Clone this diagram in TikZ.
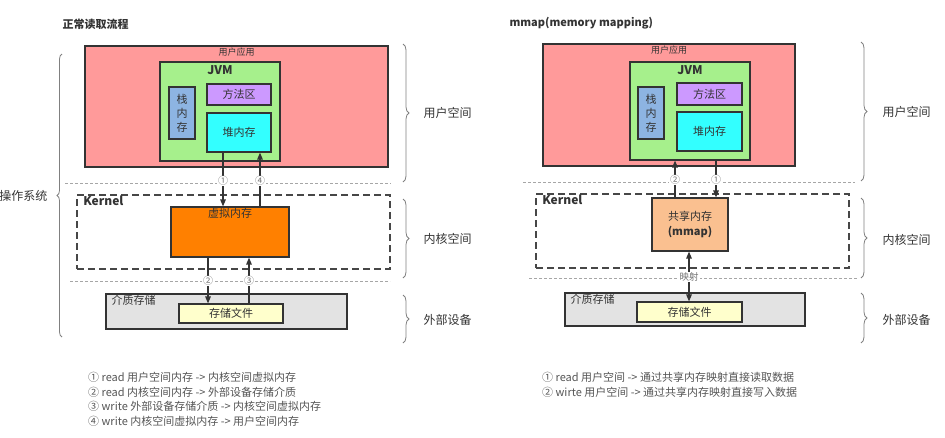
\documentclass[tikz,border=0pt]{standalone}
\usepackage{fontspec}
\setmainfont{Noto Sans CJK SC}
\usetikzlibrary{arrows.meta,decorations.pathreplacing,calc}
\definecolor{pinkfill}{HTML}{FF9A9A}
\definecolor{greenfill}{HTML}{A6F08C}
\definecolor{bluefill}{HTML}{8DB4E2}
\definecolor{purplefill}{HTML}{CC99FF}
\definecolor{cyanfill}{HTML}{33FFFF}
\definecolor{orangefill}{HTML}{FF8000}
\definecolor{lightorange}{HTML}{FAC090}
\definecolor{grayfill}{HTML}{E3E3E3}
\definecolor{yellowfill}{HTML}{FFFFCC}
\definecolor{linecol}{HTML}{333333}
\definecolor{textcol}{HTML}{333333}
\definecolor{legendcol}{HTML}{555555}
\tikzset{
  box/.style={draw=linecol, line width=1.1pt, inner sep=0pt, text=textcol},
  kbox/.style={draw=linecol!90, line width=1.6pt, dash pattern=on 7pt off 4pt, inner sep=0pt},
  sepline/.style={draw=gray!70, line width=0.8pt, dash pattern=on 3pt off 2pt},
  arr/.style={draw=linecol, line width=1.3pt, -{Triangle[length=7pt,width=5.5pt]}},
  darr/.style={draw=linecol, line width=1.3pt, {Triangle[length=7pt,width=5.5pt]}-{Triangle[length=7pt,width=5.5pt]}},
  num/.style={fill=white, inner sep=0.6pt, text=gray!90!black, font=\fontsize{10}{10}\selectfont},
  bracestyle/.style={draw=gray, line width=0.8pt, decorate},
  side/.style={anchor=west, text=textcol, font=\fontsize{12}{12}\selectfont},
  lbl/.style={text=textcol, font=\fontsize{11}{13}\selectfont, inner sep=1pt},
  legend/.style={anchor=west, text=legendcol, font=\fontsize{11}{12}\selectfont, inner sep=0pt},
  title/.style={anchor=west, text=textcol, font=\bfseries\fontsize{11}{12}\selectfont},
  kernlbl/.style={anchor=north west, text=textcol, font=\bfseries\fontsize{12}{12}\selectfont, inner sep=1pt},
}
\begin{document}
\begin{tikzpicture}[x=1pt,y=-1pt]
\useasboundingbox (0,0) rectangle (945,437);

% ---------------- Left diagram ----------------
\node[title] (titleL) at (59,24) {正常读取流程};

\node[box, fill=pinkfill, minimum width=303pt, minimum height=121pt] (pinkL) at (236.5,106.5) {};
\node[lbl, font=\fontsize{9}{10}\selectfont, anchor=north] (uappL) at ([yshift=-1pt]pinkL.north) {用户应用};
\node[box, fill=greenfill, minimum width=120pt, minimum height=99pt] (jvmL) at (220,111.5) {};
\node[lbl, font=\bfseries\fontsize{12}{12}\selectfont] (jvmtL) at (220,70) {JVM};
\node[box, fill=bluefill, minimum width=26pt, minimum height=52pt, align=center, font=\fontsize{11}{14}\selectfont] (stackL) at (182,113) {栈\\内\\存};
\node[box, fill=purplefill, minimum width=64pt, minimum height=21pt, font=\fontsize{11}{12}\selectfont] (methodL) at (239,94.5) {方法区};
\node[box, fill=cyanfill, minimum width=64pt, minimum height=39pt, font=\fontsize{11}{12}\selectfont] (heapL) at (239,132.5) {堆内存};

\draw[sepline] (65,183) -- (391,183);

\node[kbox, minimum width=313pt, minimum height=74pt] (kernelL) at (233.5,232) {};
\node[kernlbl] (kernelTL) at ([xshift=6pt,yshift=-1pt]kernelL.north west) {Kernel};
\node[box, fill=orangefill, minimum width=118pt, minimum height=50pt] (vmemL) at (230,232) {};
\node[lbl, anchor=north] (vmemtL) at ([yshift=-1pt]vmemL.north) {虚拟内存};

\draw[sepline] (70,281) -- (390,281);

\node[box, fill=grayfill, minimum width=241pt, minimum height=35pt] (storL) at (226.5,311.5) {};
\node[lbl, anchor=north west] (stortL) at ([xshift=5pt,yshift=-1pt]storL.north west) {介质存储};
\node[box, fill=yellowfill, minimum width=104pt, minimum height=19pt, font=\fontsize{11}{12}\selectfont] (fileL) at (231,313.5) {存储文件};

\coordinate (xa1) at (223,0);
\coordinate (xa4) at (260,0);
\coordinate (xa2) at (208,0);
\coordinate (xa3) at (249,0);
\draw[arr] (xa1 |- heapL.south) -- (xa1 |- vmemL.north);
\draw[arr] (xa4 |- vmemL.north) -- (xa4 |- heapL.south);
\draw[arr] (xa2 |- vmemL.south) -- (xa2 |- fileL.north);
\draw[arr] (xa3 |- fileL.north) -- (xa3 |- vmemL.south);
\node[num] (n1L) at (223,181) {①};
\node[num] (n4L) at (260,181) {④};
\node[num] (n2L) at (208,281) {②};
\node[num] (n3L) at (249,281) {③};

% braces left diagram
\draw[bracestyle, decoration={brace, amplitude=5pt}] (62,337) -- (62,54);
\node[side, anchor=east] (osL) at (51,196) {操作系统};
\draw[bracestyle, decoration={brace, amplitude=6pt}] (403,44) -- (403,182);
\draw[bracestyle, decoration={brace, amplitude=6pt}] (403,199) -- (403,278);
\draw[bracestyle, decoration={brace, amplitude=6pt}] (403,295) -- (403,343);
\node[side] (usL) at (420,113) {用户空间};
\node[side] (ksL) at (420,239) {内核空间};
\node[side] (edL) at (420,320) {外部设备};

% legend left
\node[legend] (lg1) at (88,377) {① read 用户空间内存 -> 内核空间虚拟内存};
\node[legend] (lg2) at (88,392) {② read 内核空间内存 -> 外部设备存储介质};
\node[legend] (lg3) at (88,406) {③ write 外部设备存储介质 -> 内核空间虚拟内存};
\node[legend] (lg4) at (88,421) {④ write 内核空间虚拟内存 -> 用户空间内存};

% ---------------- Right diagram ----------------
\node[title] (titleR) at (506,23) {mmap(memory mapping)};

\node[box, fill=pinkfill, minimum width=252pt, minimum height=122pt] (pinkR) at (669,105) {};
\node[lbl, font=\fontsize{9}{10}\selectfont, anchor=north] (uappR) at ([yshift=-1pt]pinkR.north) {用户应用};
\node[box, fill=greenfill, minimum width=120pt, minimum height=98pt] (jvmR) at (690,111) {};
\node[lbl, font=\bfseries\fontsize{12}{12}\selectfont] (jvmtR) at (690,70) {JVM};
\node[box, fill=bluefill, minimum width=26pt, minimum height=52pt, align=center, font=\fontsize{11}{14}\selectfont] (stackR) at (651,113) {栈\\内\\存};
\node[box, fill=purplefill, minimum width=65pt, minimum height=22pt, font=\fontsize{11}{12}\selectfont] (methodR) at (709.5,94) {方法区};
\node[box, fill=cyanfill, minimum width=65pt, minimum height=39pt, font=\fontsize{11}{12}\selectfont] (heapR) at (709.5,131.5) {堆内存};

\draw[sepline] (523,182) -- (855,182);

\node[kbox, minimum width=313pt, minimum height=74pt] (kernelR) at (692.5,231) {};
\node[kernlbl] (kernelTR) at ([xshift=6pt,yshift=-1pt]kernelR.north west) {Kernel};
\node[box, fill=lightorange, minimum width=76pt, minimum height=53pt, align=center, font=\fontsize{11}{15}\selectfont] (shmR) at (690,224.5) {共享内存\\{\bfseries (mmap)}};

\draw[sepline] (529,278) -- (858,278);

\node[box, fill=grayfill, minimum width=240pt, minimum height=33pt] (storR) at (685,309.5) {};
\node[lbl, anchor=north west] (stortR) at ([xshift=5pt,yshift=-1pt]storR.north west) {介质存储};
\node[box, fill=yellowfill, minimum width=105pt, minimum height=20pt, font=\fontsize{11}{12}\selectfont] (fileR) at (689.5,312) {存储文件};

\coordinate (xb2) at (675,0);
\coordinate (xb1) at (716,0);
\coordinate (xbm) at (689,0);
\draw[arr] (xb2 |- shmR.north) -- (xb2 |- jvmR.south);
\draw[arr] (xb1 |- jvmR.south) -- (xb1 |- shmR.north);
\draw[darr] (xbm |- shmR.south) -- (xbm |- fileR.north);
\node[num] (n2R) at (675,180) {②};
\node[num] (n1R) at (716,180) {①};
\node[num, font=\fontsize{9.5}{10}\selectfont, inner sep=1pt] (mapR) at (689,277) {映射};

\draw[bracestyle, decoration={brace, amplitude=6pt}] (861,42) -- (861,181);
\draw[bracestyle, decoration={brace, amplitude=6pt}] (861,198) -- (861,278);
\draw[bracestyle, decoration={brace, amplitude=6pt}] (861,293) -- (861,343);
\node[side] (usR) at (879,112) {用户空间};
\node[side] (ksR) at (879,240) {内核空间};
\node[side] (edR) at (879,320) {外部设备};

\node[legend] (lr1) at (542,377) {① read 用户空间 -> 通过共享内存映射直接读取数据};
\node[legend] (lr2) at (542,392) {② wirte 用户空间 -> 通过共享内存映射直接写入数据};
\end{tikzpicture}
\end{document}
